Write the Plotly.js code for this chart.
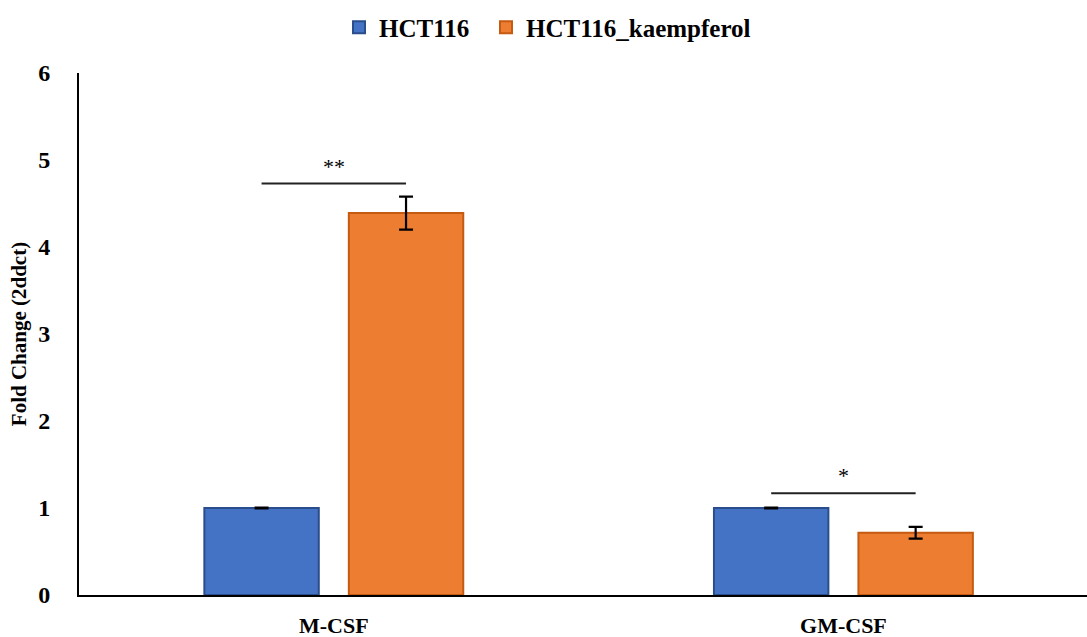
<!DOCTYPE html>
<html><head><meta charset="utf-8">
<script src="https://cdn.plot.ly/plotly-3.0.1.min.js"></script>
<style>body{margin:0;background:#fff}#c{width:1087px;height:637px}</style>
</head><body><div id="c"></div>
<script>
const categories = ["M-CSF", "GM-CSF"];
const seriesNames = ["HCT116", "HCT116_kaempferol"];
const hct116 = [1.0, 1.0];
const hct116Err = [0.005, 0.005];
const kaempferol = [4.39, 0.715];
const kaempferolErr = [0.19, 0.068];
const sigLabels = ["**", "*"];
const sigLineLevel = [4.73, 1.17];
const sigTextLevel = [4.93, 1.37];
const yTicks = [0, 1, 2, 3, 4, 5, 6];

const serif = "Liberation Serif, Times New Roman, serif";
const bargap = 0.433, bargroupgap = 0.208;
const slot = (1 - bargap) / 2;
const half = slot / 2;

const errStyle = {type: "data", visible: true, color: "#000", thickness: 2.2, width: 7};
const traces = [
  {type: "bar", name: seriesNames[0], x: categories, y: hct116, legend: "legend",
   marker: {color: "#4472C4", line: {color: "#2A4E8C", width: 2}},
   error_y: Object.assign({array: hct116Err}, errStyle)},
  {type: "bar", name: seriesNames[1], x: categories, y: kaempferol, legend: "legend2",
   marker: {color: "#ED7D31", line: {color: "#C55A11", width: 2}},
   error_y: Object.assign({array: kaempferolErr}, errStyle)}
];

const shapes = [], annotations = [];
categories.forEach((c, i) => {
  shapes.push({type: "line", xref: "x", yref: "y", x0: i - half, x1: i + half,
    y0: sigLineLevel[i], y1: sigLineLevel[i], line: {color: "#222", width: 2}});
  annotations.push({xref: "x", yref: "y", x: i, y: sigTextLevel[i], text: sigLabels[i],
    showarrow: false, font: {family: serif, size: 22, color: "#000"}});
});

const legendBase = {orientation: "h", xref: "container", xanchor: "left", y: 0.957, yanchor: "middle",
  yref: "container", font: {family: serif, size: 25, color: "#000", weight: "bold"}, itemwidth: 30,
  bgcolor: "rgba(0,0,0,0)"};

const layout = {
  width: 1087, height: 637,
  margin: {l: 79, r: 0, t: 73, b: 42},
  paper_bgcolor: "#fff", plot_bgcolor: "#fff",
  barmode: "group", bargap: bargap, bargroupgap: bargroupgap,
  showlegend: true,
  legend: Object.assign({}, legendBase, {x: 339 / 1087}),
  legend2: Object.assign({}, legendBase, {x: 486 / 1087}),
  xaxis: {type: "category", range: [-0.5, 1.478], showline: true, linecolor: "#000", linewidth: 2,
    ticks: "", showgrid: false, zeroline: false,
    tickfont: {family: serif, size: 22, color: "#000", weight: "bold"}, ticklabelstandoff: 10},
  yaxis: {range: [0, 6], tickvals: yTicks, showline: true, linecolor: "#000", linewidth: 2,
    ticks: "", showgrid: false, zeroline: false, ticklabelstandoff: 22,
    tickfont: {family: serif, size: 24, color: "#000", weight: "bold"},
    title: {text: "Fold Change (2ddct)", standoff: 6,
      font: {family: serif, size: 21, color: "#000", weight: "bold"}}},
  shapes: shapes, annotations: annotations
};
Plotly.newPlot("c", traces, layout, {displayModeBar: false, staticPlot: true});
</script></body></html>
